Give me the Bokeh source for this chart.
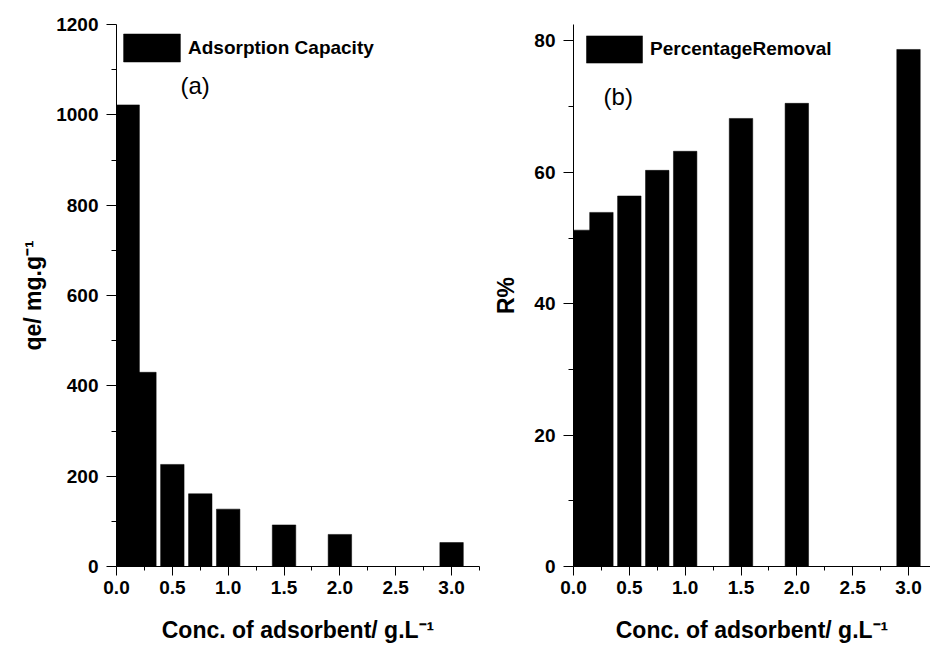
from bokeh.plotting import figure
from bokeh.layouts import row
from bokeh.models import FixedTicker, Legend, LegendItem, Label, Range1d
from bokeh.embed import file_html
from bokeh.resources import INLINE

# ---- data ----
conc = [0.1, 0.25, 0.5, 0.75, 1.0, 1.5, 2.0, 3.0]          # g/L
qe = [1022, 430, 226, 161, 127, 92, 71, 53]                 # mg/g
removal = [51.2, 53.9, 56.4, 60.3, 63.2, 68.2, 70.5, 78.7]  # %

x_ticks = [0.0, 0.5, 1.0, 1.5, 2.0, 2.5, 3.0]
x_minor = [0.25, 0.75, 1.25, 1.75, 2.25, 2.75, 3.25]
qe_ticks = [0, 200, 400, 600, 800, 1000, 1200]
qe_minor = [100, 300, 500, 700, 900, 1100]
r_ticks = [0, 20, 40, 60, 80]
r_minor = [10, 30, 50, 70]

FONT = "Liberation Sans"
XLABEL = "Conc. of adsorbent/ g.L\u207b\u00b9"


def style(p, ylabel, xt, xm, yt, ym, ystand):
    p.xgrid.visible = False
    p.ygrid.visible = False
    p.outline_line_color = None
    p.background_fill_color = "white"
    p.border_fill_color = "white"
    p.xaxis.ticker = FixedTicker(ticks=xt, minor_ticks=xm)
    p.yaxis.ticker = FixedTicker(ticks=yt, minor_ticks=ym)
    p.xaxis.major_label_overrides = {v: f"{v:.1f}" for v in xt}
    p.xaxis.axis_label = XLABEL
    p.yaxis.axis_label = ylabel
    for ax in (p.xaxis, p.yaxis):
        ax.axis_line_color = "black"
        ax.axis_line_width = 1
        ax.major_tick_line_color = "black"
        ax.minor_tick_line_color = "black"
        ax.major_tick_in = 0
        ax.minor_tick_in = 0
        ax.major_label_text_font = FONT
        ax.major_label_text_font_style = "bold"
        ax.major_label_text_font_size = "19px"
        ax.major_label_text_color = "black"
        ax.axis_label_text_font = FONT
        ax.axis_label_text_font_style = "bold"
        ax.axis_label_text_font_size = "23px"
        ax.axis_label_text_color = "black"
    p.xaxis.major_tick_out = 9
    p.xaxis.minor_tick_out = 4
    p.yaxis.major_tick_out = 10
    p.yaxis.minor_tick_out = 5
    p.xaxis.major_label_standoff = 5
    p.yaxis.major_label_standoff = 8
    p.xaxis.axis_label_standoff = 20
    p.yaxis.axis_label_standoff = ystand


def add_legend(p, r, text, loc, gw, gh):
    leg = Legend(items=[LegendItem(label=text, renderers=[r])],
                 location=loc, glyph_width=gw, glyph_height=gh,
                 label_standoff=1, padding=0, margin=0, spacing=0,
                 border_line_color=None, background_fill_alpha=0,
                 label_text_font=FONT, label_text_font_style="bold",
                 label_text_font_size="19px", label_text_color="black")
    p.add_layout(leg)


# ---- left panel: adsorption capacity ----
p1 = figure(width=490, height=648, x_range=Range1d(0, 3.25), y_range=Range1d(0, 1200),
            output_backend="svg", toolbar_location=None,
            min_border_left=116, min_border_right=11, min_border_top=24, min_border_bottom=82)
r1 = p1.vbar(x=conc, top=qe, width=0.21, fill_color="black", line_color="black", line_width=0.5)
style(p1, "qe/ mg.g\u207b\u00b9", x_ticks, x_minor, qe_ticks, qe_minor, 7)
add_legend(p1, r1, "Adsorption Capacity", (0, 501), 71, 35)
p1.add_layout(Label(x=0.573, y=1065, text="(a)", text_font=FONT, text_font_size="24px",
                    text_baseline="middle", text_align="left", text_color="black"))

# ---- right panel: percentage removal ----
p2 = figure(width=440, height=648, x_range=Range1d(0, 3.197), y_range=Range1d(0, 82.5),
            output_backend="svg", toolbar_location=None,
            min_border_left=83, min_border_right=0, min_border_top=24, min_border_bottom=82)
r2 = p2.vbar(x=conc, top=removal, width=0.21, fill_color="black", line_color="black", line_width=0.5)
style(p2, "R%", x_ticks, x_minor, r_ticks, r_minor, 12)
add_legend(p2, r2, "PercentageRemoval", (6, 500), 70, 34)
p2.add_layout(Label(x=0.269, y=71.5, text="(b)", text_font=FONT, text_font_size="24px",
                    text_baseline="middle", text_align="left", text_color="black"))

layout = row(p1, p2)
open("out.html", "w").write(file_html(layout, INLINE))
